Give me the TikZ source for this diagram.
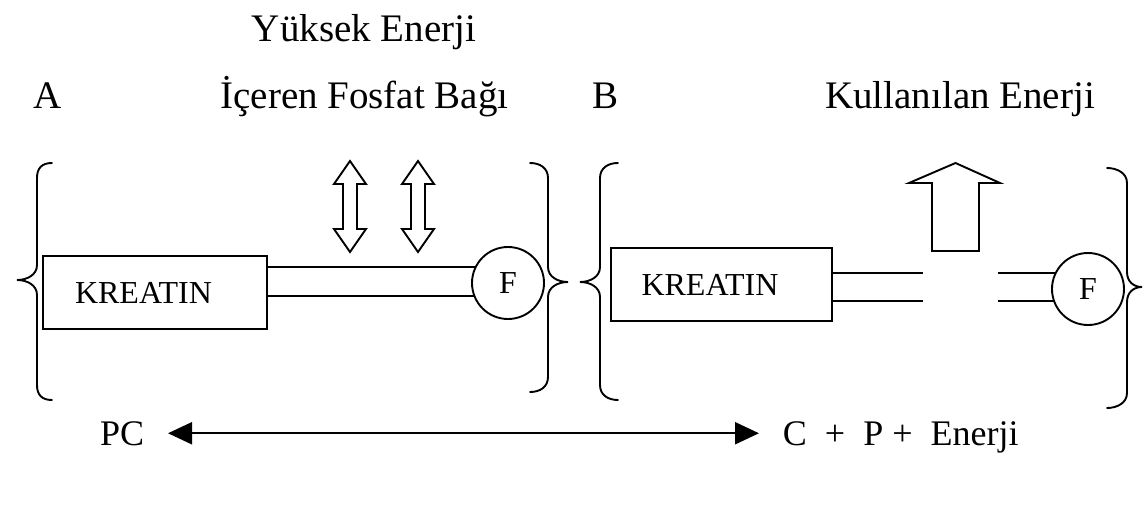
\documentclass[tikz,border=0pt]{standalone}
\usepackage{fontspec}
\setmainfont{Liberation Serif}
\usetikzlibrary{arrows.meta,backgrounds}
\begin{document}
\begin{tikzpicture}[x=1pt,y=-1pt,line width=1.9pt,
  lbl/.style={inner sep=0pt,font=\fontsize{39}{44}\selectfont},
  botlbl/.style={inner sep=0pt,font=\fontsize{36}{40}\selectfont},
  kbox/.style={draw,minimum height=73pt,text width=160pt,align=left,inner xsep=0pt,font=\fontsize{32}{36}\selectfont},
  fcirc/.style={draw,circle,fill=white,minimum size=72pt,inner sep=0pt,font=\fontsize{32}{36}\selectfont},
  brace/.style={line width=1.9pt,line cap=round},
  tube/.style={line width=1.9pt},
  hollow/.style={draw,fill=white,line width=1.9pt,line join=miter},
  tri/.tip={Triangle[length=24pt,width=22pt]}]
\useasboundingbox (0,0) rectangle (1144,511);

% top labels
\node[lbl,anchor=base] (yuk) at (364,42) {Yüksek Enerji};
\node[lbl,anchor=base] (ic) at (364.5,108) {İçeren Fosfat Bağı};
\node[lbl,anchor=base west] (la) at (33,108) {A};
\node[lbl,anchor=base west] (lb) at (592,108) {B};
\node[lbl,anchor=base] (kul) at (960,108) {Kullanılan Enerji};

% boxes
\node[kbox,minimum width=224pt] (boxA) at (155,292.5) {KREATIN};
\node[kbox,minimum width=221pt] (boxB) at (721.5,284.5) {KREATIN};

% circles
\node[fcirc] (fA) at (508,283) {F};
\node[fcirc] (fB) at (1088,289) {F};

% tubes
\coordinate (gL1) at (923,273);
\coordinate (gL2) at (923,301);
\coordinate (gR1) at (998,273);
\coordinate (gR2) at (998,301);
\begin{scope}[on background layer]
\draw[tube] (boxA.east |- 0,267) -- (fA.center |- 0,267);
\draw[tube] (boxA.east |- 0,296) -- (fA.center |- 0,296);
\draw[tube] (boxB.east |- gL1) -- (gL1);
\draw[tube] (boxB.east |- gL2) -- (gL2);
\draw[tube] (gR1) -- (fB.center |- gR1);
\draw[tube] (gR2) -- (fB.center |- gR2);
\end{scope}

% braces
\draw[brace] (52,163) .. controls (42,163) and (37,168) .. (37,178) -- (37,265)
  .. controls (37,275) and (27,280) .. (17,280) .. controls (27,280) and (37,285) .. (37,295)
  -- (37,385) .. controls (37,395) and (42,400) .. (52,400);
\draw[brace] (530,163) .. controls (540,163) and (548,168) .. (548,178) -- (548,267)
  .. controls (548,277) and (558,282) .. (568,282) .. controls (558,282) and (548,287) .. (548,297)
  -- (548,377) .. controls (548,387) and (540,392) .. (530,392);
\draw[brace] (618,163) .. controls (608,163) and (600,168) .. (600,178) -- (600,267)
  .. controls (600,277) and (590,282) .. (580,282) .. controls (590,282) and (600,287) .. (600,297)
  -- (600,385) .. controls (600,395) and (608,400) .. (618,400);
\draw[brace] (1107,168) .. controls (1117,168) and (1127,173) .. (1127,183) -- (1127,272)
  .. controls (1127,282) and (1134,287) .. (1142,287) .. controls (1134,287) and (1127,292) .. (1127,302)
  -- (1127,393) .. controls (1127,403) and (1117,408) .. (1107,408);

% double arrows
\foreach \cx in {350,418}{
  \draw[hollow] (\cx,161) -- (\cx+16,184) -- (\cx+7,184) -- (\cx+7,229) -- (\cx+16,229)
    -- (\cx,252) -- (\cx-16,229) -- (\cx-7,229) -- (\cx-7,184) -- (\cx-16,184) -- cycle;
}

% big up arrow
\draw[hollow] (955.5,163) -- (1000,183) -- (979,183) -- (979,251) -- (932,251)
  -- (932,183) -- (909,183) -- cycle;

% bottom reaction
\node[botlbl,anchor=base east] (pc) at (145,445) {PC};
\node[botlbl,anchor=base west] (cpe) at (782,445) {C\ \ +\ \ P +\ \ Enerji};
\draw[{tri}-{tri},line width=2.2pt] ([xshift=23pt]pc.east) -- ([xshift=-23pt]pc.east -| cpe.west);
\end{tikzpicture}
\end{document}
